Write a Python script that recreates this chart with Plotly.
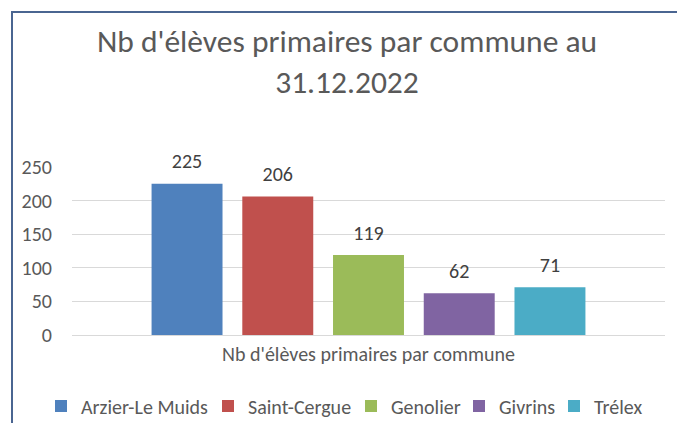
import plotly.graph_objects as go

category = ["Nb d'élèves primaires par commune"]
communes = ["Arzier-Le Muids", "Saint-Cergue", "Genolier", "Givrins", "Trélex"]
values = [225, 206, 119, 62, 71]
colors = ["#4F81BD", "#C0504D", "#9BBB59", "#8064A2", "#4BACC6"]
y_ticks = [0, 50, 100, 150, 200, 250]

# legend entry text start positions (px), one small legend per series
legend_text_x = [81, 248, 391, 499, 594]
legend_ids = ["legend", "legend2", "legend3", "legend4", "legend5"]

FONT = "Carlito, Calibri, Lato, sans-serif"
TXT = "#595959"
SZ = 20

fig = go.Figure()
for name, v, c, lg in zip(communes, values, colors, legend_ids):
    fig.add_trace(go.Bar(
        x=category, y=[v], name=name, marker=dict(color=c, line=dict(width=0)),
        offsetgroup=name, hoverinfo="skip", legend=lg,
    ))
# data labels (placed above the bars, like Excel)
for name, v in zip(communes, values):
    fig.add_trace(go.Scatter(
        x=category, y=[v], mode="markers+text", text=[str(v)],
        textposition="top center", offsetgroup=name, showlegend=False,
        marker=dict(size=15, opacity=0), cliponaxis=False,
        textfont=dict(family=FONT, size=SZ, color="#404040"), hoverinfo="skip",
    ))

L, R, T, B = 72, 12, 167, 88
W, H = 677, 423
pw, ph = W - L - R, H - T - B

def px(x):
    return (x - L) / pw

def py(y):
    return (H - B - y) / ph

legends = {}
for lg, tx in zip(legend_ids, legend_text_x):
    legends[lg] = dict(orientation="h", x=(tx - 40) / W, xanchor="left", xref="container",
                       y=1 - 406 / H, yanchor="middle", yref="container",
                       font=dict(family=FONT, size=SZ, color=TXT), itemwidth=30,
                       bgcolor="rgba(0,0,0,0)")

fig.update_layout(
    width=W, height=H,
    margin=dict(l=L, r=R, t=T, b=B, autoexpand=False),
    paper_bgcolor="white", plot_bgcolor="white",
    barmode="group", bargap=0.235, bargroupgap=0.218,
    scattermode="group", scattergap=0.235,
    font=dict(family=FONT, color=TXT, size=SZ),
    title=dict(text="Nb d'élèves primaires par commune au<br>31.12.2022",
               x=347 / W, xanchor="center", y=1 - 52 / H, yanchor="middle",
               font=dict(family=FONT, size=31.5, color=TXT)),
    xaxis=dict(showline=False, ticks="", tickfont=dict(family=FONT, size=SZ, color=TXT),
               ticklabelstandoff=5, automargin=False),
    yaxis=dict(range=[0, 250], tickvals=y_ticks, showgrid=True, gridcolor="#D9D9D9",
               gridwidth=1, zeroline=True, zerolinecolor="#D9D9D9", zerolinewidth=1,
               tickfont=dict(family=FONT, size=SZ, color=TXT), ticklabelstandoff=19,
               automargin=False),
    showlegend=True,
    **legends,
)

border = "#4A6591"
fig.add_shape(type="line", xref="paper", yref="paper",
              x0=px(12), x1=px(12), y0=py(11), y1=py(H + 5),
              line=dict(color=border, width=2))
fig.add_shape(type="line", xref="paper", yref="paper",
              x0=px(11), x1=px(W + 5), y0=py(12), y1=py(12),
              line=dict(color=border, width=2))

fig.write_html("out.html", config={"displayModeBar": False},
               post_script="document.body.style.margin='0px';")
